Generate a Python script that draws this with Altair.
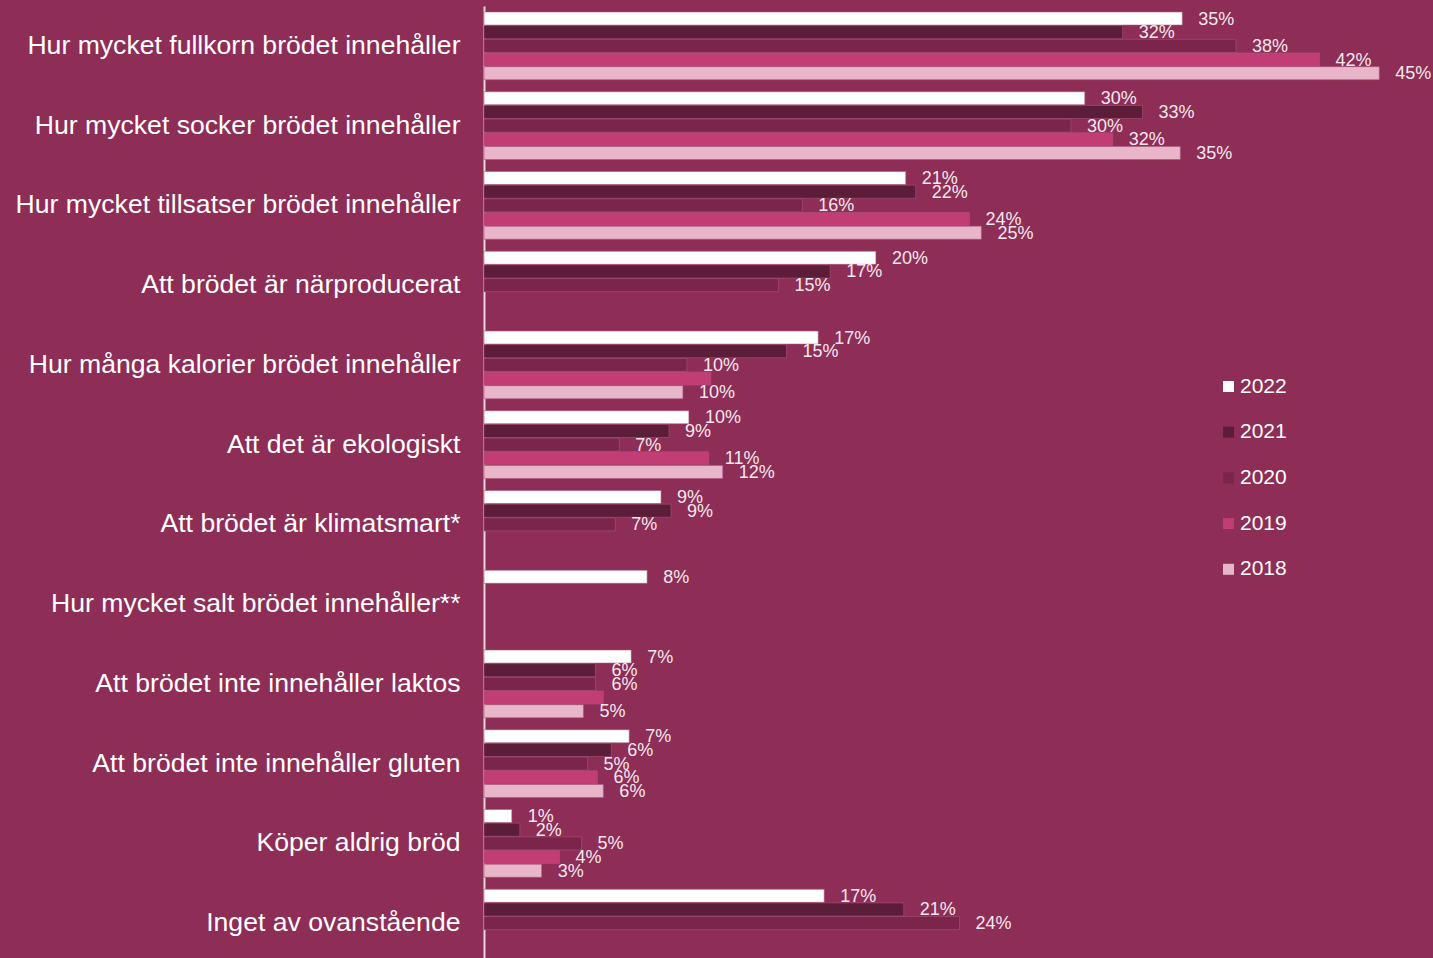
import altair as alt
import pandas as pd

categories = [
    "Hur mycket fullkorn brödet innehåller",
    "Hur mycket socker brödet innehåller",
    "Hur mycket tillsatser brödet innehåller",
    "Att brödet är närproducerat",
    "Hur många kalorier brödet innehåller",
    "Att det är ekologiskt",
    "Att brödet är klimatsmart*",
    "Hur mycket salt brödet innehåller**",
    "Att brödet inte innehåller laktos",
    "Att brödet inte innehåller gluten",
    "Köper aldrig bröd",
    "Inget av ovanstående",
]
years = ["2022", "2021", "2020", "2019", "2018"]
v2022 = [35.1, 30.2, 21.2, 19.7, 16.8, 10.3, 8.9, 8.2, 7.4, 7.3, 1.4, 17.1]
v2021 = [32.1, 33.1, 21.7, 17.4, 15.2, 9.3, 9.4, None, 5.6, 6.4, 1.8, 21.1]
v2020 = [37.8, 29.5, 16.0, 14.8, 10.2, 6.8, 6.6, None, 5.6, 5.2, 4.9, 23.9]
v2019 = [42.0, 31.6, 24.4, None, 11.4, 11.3, None, None, 6.0, 5.7, 3.8, None]
v2018 = [45.0, 35.0, 25.0, None, 10.0, 12.0, None, None, 5.0, 6.0, 2.9, None]
hidden_labels = [
    ("Hur många kalorier brödet innehåller", "2019"),
    ("Att brödet inte innehåller laktos", "2019"),
]
colors = ["#FFFFFF", "#5C1D38", "#7B254B", "#C13D74", "#E8B5C9"]

rows = []
for yr, vals in zip(years, [v2022, v2021, v2020, v2019, v2018]):
    for cat, v in zip(categories, vals):
        if v is None:
            continue
        lab = "" if (cat, yr) in hidden_labels else f"{round(v)}%"
        rows.append({"category": cat, "year": yr, "value": v, "label": lab})
df = pd.DataFrame(rows)

FONT = "Liberation Sans"

y = alt.Y(
    "category:N",
    sort=categories,
    scale=alt.Scale(paddingInner=0.15, paddingOuter=0.075),
    axis=alt.Axis(
        title=None, labelFontSize=26.6, labelColor="white", labelFont=FONT,
        labelPadding=24, ticks=False, domainColor="#E6D6DE", domainWidth=2,
        labelLimit=0,
    ),
)
yoff = alt.YOffset("year:N", sort=years, scale=alt.Scale(domain=years, paddingInner=0.04))
x = alt.X("value:Q", scale=alt.Scale(domain=[0, 47.7], nice=False), axis=None)
color = alt.Color(
    "year:N",
    scale=alt.Scale(domain=years, range=colors),
    legend=alt.Legend(
        title=None, orient="none", legendX=734, legendY=370,
        symbolType="square", symbolSize=121, symbolStrokeWidth=0,
        labelFontSize=21, labelColor="white", labelFont=FONT,
        rowPadding=23.7, labelOffset=1, padding=0,
    ),
)

base = alt.Chart(df)
bars = base.mark_bar(stroke="#A8557A", strokeWidth=0.6).encode(y=y, yOffset=yoff, x=x, color=color)
text = base.mark_text(
    align="left", baseline="middle", dx=16, dy=1, fontSize=18, font=FONT, color="#F5E8EE"
).encode(y=y, yOffset=yoff, x=x, text="label:N")

chart = (
    (bars + text)
    .properties(
        width=949, height=957, background="#8E2D56",
        padding={"left": 484, "top": 6, "right": 0, "bottom": 0},
        autosize="none",
    )
    .configure_view(stroke=None)
)
chart.save("out.html", embed_options={"renderer": "svg", "actions": False})
